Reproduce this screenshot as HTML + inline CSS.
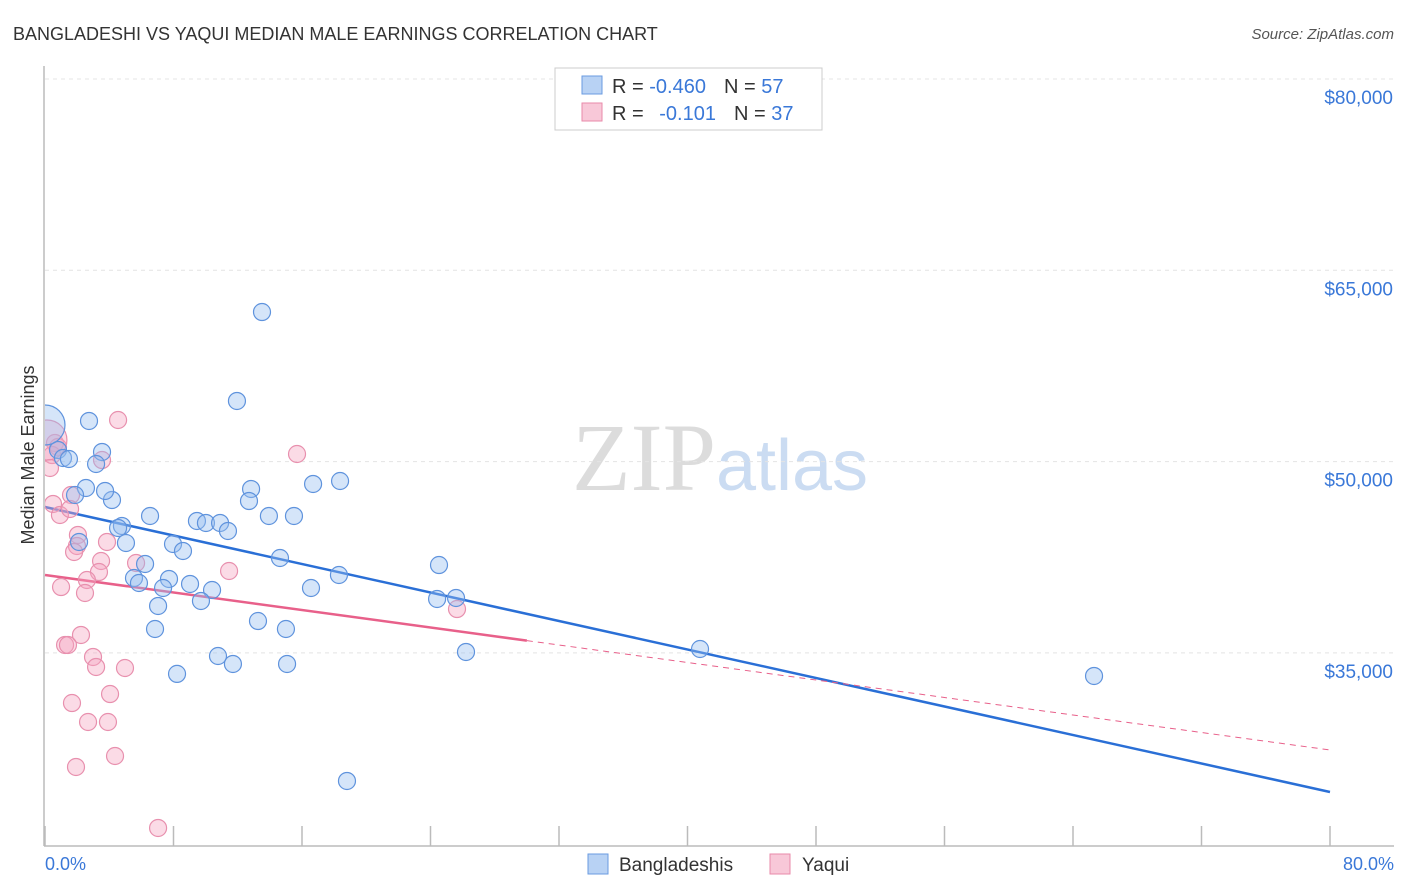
<!DOCTYPE html>
<html><head><meta charset="utf-8"><style>
body{margin:0;background:#fff;font-family:"Liberation Sans",sans-serif}
svg{display:block}
</style></head><body>
<svg id="chart" width="1406" height="892" xmlns="http://www.w3.org/2000/svg">
<defs><clipPath id="plotclip"><rect x="45" y="60" width="1360" height="786"/></clipPath></defs>
<text x="13" y="40" font-size="18" fill="#333" font-family="Liberation Sans, sans-serif">BANGLADESHI VS YAQUI MEDIAN MALE EARNINGS CORRELATION CHART</text>
<text x="1394" y="39" font-size="15" fill="#555" text-anchor="end" font-style="italic">Source: ZipAtlas.com</text>
<text x="720" y="490" font-size="96" text-anchor="middle"><tspan fill="#dcdcdc" font-family="Liberation Serif, serif">ZIP</tspan><tspan fill="#cbdcf2" font-size="72" font-family="Liberation Sans, sans-serif">atlas</tspan></text>
<g id="grid"></g>
<g id="axes"></g>
<g id="lines"></g>
<g id="points" clip-path="url(#plotclip)"></g>
<text transform="translate(34,455) rotate(-90)" font-size="18" fill="#333" text-anchor="middle">Median Male Earnings</text>
<text x="45" y="870" font-size="18" fill="#3a78d8">0.0%</text>
<text x="1394" y="870" font-size="18" fill="#3a78d8" text-anchor="end">80.0%</text>
<g>
<rect x="555" y="68" width="267" height="62" fill="#fff" stroke="#ccc"/>
<rect x="582" y="76" width="20" height="18" fill="#b8d2f4" stroke="#6a9be0"/>
<rect x="582" y="103" width="20" height="18" fill="#f8c8d8" stroke="#e88aaa"/>
<text x="612" y="93" font-size="20" fill="#333">R = <tspan fill="#3a78d8">-0.460</tspan><tspan dx="18">N = </tspan><tspan fill="#3a78d8">57</tspan></text>
<text x="612" y="120" font-size="20" fill="#333">R = <tspan dx="10" fill="#3a78d8">-0.101</tspan><tspan dx="18">N = </tspan><tspan fill="#3a78d8">37</tspan></text>
</g>
<g>
<rect x="588" y="854" width="20" height="20" fill="#b8d2f4" stroke="#6a9be0"/>
<text x="619" y="871" font-size="19" fill="#333">Bangladeshis</text>
<rect x="770" y="854" width="20" height="20" fill="#f8c8d8" stroke="#e88aaa"/>
<text x="802" y="871" font-size="19" fill="#333">Yaqui</text>
</g>
</svg>
<script>
const yTicks=[80000,65000,50000,35000];
const yTickLabels=["$80,000","$65,000","$50,000","$35,000"];
const xTicks=[0,8,16,24,32,40,48,56,64,72,80];
const blueX=[13.51,11.95,2.74,3.55,0.81,1.12,1.49,3.18,18.37,16.69,12.83,12.70,2.55,4.17,1.87,3.74,6.54,13.94,15.50,9.46,10.02,10.90,11.39,4.79,4.55,5.04,7.97,8.59,2.12,14.63,24.53,6.23,5.54,5.85,7.72,9.03,7.35,10.40,9.71,18.30,16.56,7.04,24.41,25.59,6.85,13.26,15.00,10.77,11.70,15.07,26.21,8.22,40.78,65.31,18.80,0];
const blueY=[61730,54752,53184,50753,50910,50283,50204,49812,48479,48244,47852,46911,47930,46990,47381,47695,45735,45735,45735,45343,45186,45186,44559,44951,44794,43618,43539,42991,43696,42441,41892,41971,40873,40481,40795,40403,40089,39932,39070,41108,40089,38678,39227,39305,36874,37501,36874,34757,34130,34130,35071,33354,35306,33189,24956,52870];
const pinkX=[4.55,0.62,0.81,0.44,0.31,3.55,15.69,1.62,0.50,0.93,1.56,2.05,1.99,1.81,3.86,3.49,5.67,11.46,3.36,2.61,2.49,1.00,25.65,2.24,1.25,1.43,2.99,3.18,4.98,4.05,1.68,2.68,3.92,4.36,1.93,7.04,0.12];
const pinkY=[53262,51458,51144,50517,49498,50125,50596,47381,46676,45813,46284,44245,43383,42912,43696,42206,42049,41422,41343,40716,39697,40167,38442,36404,35620,35620,34679,33895,33816,31777,31071,29582,29582,26916,26054,21271,51693];
const blueTrend=[46440,24093];
const pinkTrend=[41108,27387];
const pinkSolidEnd=30;
const NS="http://www.w3.org/2000/svg";
const X0=45,X1=1330,Y80=79,PXPER=191.3/15000;
function xs(v){return X0+(X1-X0)*v/80;}
function ys(v){return Y80+(80000-v)*PXPER;}
function mk(t,a,p){const e=document.createElementNS(NS,t);for(const k in a)e.setAttribute(k,a[k]);document.getElementById(p).appendChild(e);return e;}
yTicks.forEach((t,i)=>{
 const l=mk('line',{x1:45,x2:1394,y1:ys(t),y2:ys(t),stroke:'#e4e4e4','stroke-dasharray':'4,4'},'grid');
 
 
 const tx=mk('text',{x:1393,y:ys(t)+25,'font-size':19,fill:'#3a78d8','text-anchor':'end'},'grid');
 tx.textContent=yTickLabels[i];
 
 
});
const ax=mk('line',{x1:44,x2:44,y1:66,y2:846,stroke:'#bbb','stroke-width':1.5},'axes');


const bx=mk('line',{x1:44,x2:1394,y1:846,y2:846,stroke:'#bbb','stroke-width':1.5},'axes');


xTicks.forEach(t=>{
 const l=mk('line',{x1:xs(t),x2:xs(t),y1:826,y2:846,stroke:'#bbb','stroke-width':1.5},'axes');
 
 
});
function trendAt(tr,x){return tr[0]+(tr[1]-tr[0])*x/80;}
const bl=mk('line',{x1:xs(0),y1:ys(blueTrend[0]),x2:xs(80),y2:ys(blueTrend[1]),stroke:'#2a6fd6','stroke-width':2.5},'lines');


const pl=mk('line',{x1:xs(0),y1:ys(pinkTrend[0]),x2:xs(pinkSolidEnd),y2:ys(trendAt(pinkTrend,pinkSolidEnd)),stroke:'#e8608a','stroke-width':2.5},'lines');


const pd=mk('line',{x1:xs(pinkSolidEnd),y1:ys(trendAt(pinkTrend,pinkSolidEnd)),x2:xs(80),y2:ys(pinkTrend[1]),stroke:'#e8608a','stroke-width':1,'stroke-dasharray':'6,5'},'lines');


function pts(X,Y,fill,stroke,name){
 X.forEach((x,i)=>{
  const big=(i===X.length-1);
  const c=mk('circle',{cx:xs(x),cy:ys(Y[i]),r:big?20:8.5,fill:fill,stroke:stroke,'stroke-width':1.2},'points');
  
  
 });
}
pts(pinkX,pinkY,'rgba(244,165,192,0.4)','#e890ae','yaqui-point');
pts(blueX,blueY,'rgba(150,190,240,0.4)','#5f93dd','bangladeshi-point');
</script>
</body></html>
